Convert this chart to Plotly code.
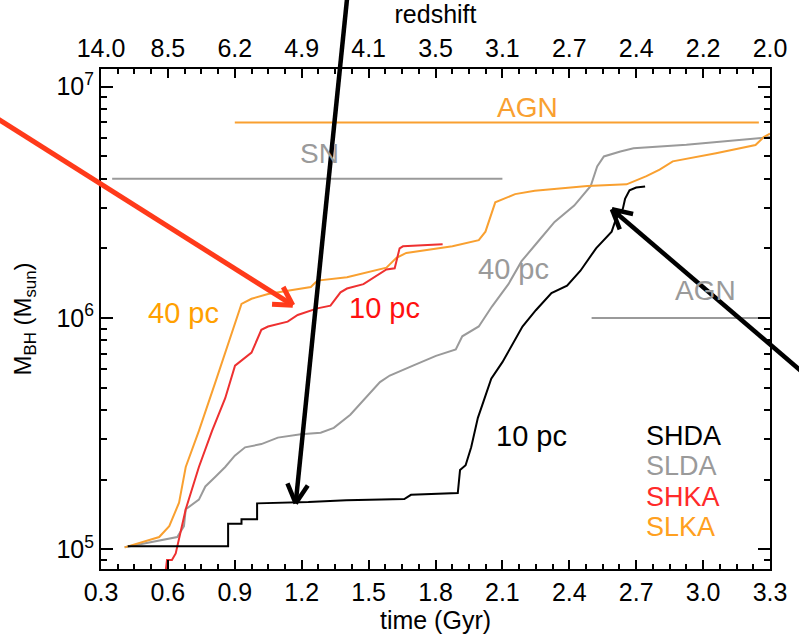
import math
import numpy as np
import plotly.graph_objects as go

FONT = "Liberation Sans, Arial, Helvetica, sans-serif"

# time axis (Gyr) and matching redshift labels for the top axis
time_ticks = [0.3, 0.6, 0.9, 1.2, 1.5, 1.8, 2.1, 2.4, 2.7, 3.0, 3.3]
redshift_labels = ["14.0", "8.5", "6.2", "4.9", "4.1", "3.5", "3.1", "2.7", "2.4", "2.2", "2.0"]

# black hole mass growth, time in Gyr, mass in Msun
t_shda = [0.42, 0.87, 0.87, 0.93, 0.93, 1.00, 1.00, 1.23, 1.40, 1.66, 1.69, 1.90, 1.91, 1.935,
          1.96, 1.99, 2.01, 2.05, 2.10, 2.14, 2.19, 2.25, 2.32, 2.39, 2.45, 2.52, 2.59, 2.61,
          2.64, 2.65, 2.67, 2.70, 2.74]
m_shda = [1.03e5, 1.03e5, 1.29e5, 1.29e5, 1.35e5, 1.35e5, 1.58e5, 1.60e5, 1.63e5, 1.65e5,
          1.72e5, 1.75e5, 2.20e5, 2.31e5, 2.76e5, 3.70e5, 4.21e5, 5.46e5, 6.44e5, 7.55e5,
          9.18e5, 1.08e6, 1.28e6, 1.38e6, 1.60e6, 2.00e6, 2.36e6, 2.69e6, 2.96e6, 3.27e6,
          3.56e6, 3.66e6, 3.70e6]

t_slda = [0.406, 0.569, 0.642, 0.672, 0.68, 0.739, 0.768, 0.813, 0.857, 0.90, 0.946, 1.019,
          1.093, 1.196, 1.285, 1.344, 1.403, 1.418, 1.551, 1.595, 1.699, 1.802, 1.891, 1.92,
          1.994, 2.053, 2.127, 2.186, 2.26, 2.334, 2.422, 2.496, 2.525, 2.555, 2.629, 2.688,
          2.925, 3.234, 3.30]
m_slda = [1.02e5, 1.10e5, 1.13e5, 1.26e5, 1.49e5, 1.64e5, 1.87e5, 2.06e5, 2.27e5, 2.54e5,
          2.76e5, 2.85e5, 3.04e5, 3.14e5, 3.19e5, 3.35e5, 3.70e5, 3.82e5, 5.28e5, 5.64e5,
          6.22e5, 6.86e5, 7.31e5, 8.33e5, 9.19e5, 1.12e6, 1.40e6, 1.76e6, 2.14e6, 2.60e6,
          3.06e6, 3.72e6, 4.52e6, 4.99e6, 5.24e6, 5.41e6, 5.60e6, 5.96e6, 6.05e6]

t_shka = [0.591, 0.596, 0.618, 0.635, 0.68, 0.739, 0.798, 0.857, 0.901, 0.93, 0.975, 1.019,
          1.049, 1.137, 1.182, 1.27, 1.329, 1.374, 1.403, 1.477, 1.58, 1.617, 1.639, 1.654, 1.832]
m_shka = [8.2e4, 9.0e4, 9.0e4, 9.6e4, 1.49e5, 2.27e5, 3.25e5, 4.50e5, 6.22e5, 6.53e5, 7.08e5,
          8.89e5, 9.18e5, 9.64e5, 1.03e6, 1.10e6, 1.13e6, 1.29e6, 1.34e6, 1.40e6, 1.62e6,
          1.64e6, 2.00e6, 2.04e6, 2.08e6]

t_slka = [0.406, 0.561, 0.606, 0.65, 0.68, 0.739, 0.813, 0.886, 0.93, 0.975, 1.049, 1.137,
          1.241, 1.27, 1.403, 1.58, 1.625, 1.669, 1.876, 1.994, 2.024, 2.068, 2.157, 2.245,
          2.481, 2.657, 2.746, 2.805, 2.864, 3.058, 3.235, 3.272, 3.30]
m_slka = [1.02e5, 1.13e5, 1.26e5, 1.59e5, 2.27e5, 3.25e5, 5.28e5, 8.60e5, 1.15e6, 1.21e6,
          1.27e6, 1.31e6, 1.36e6, 1.45e6, 1.50e6, 1.65e6, 1.82e6, 1.91e6, 2.04e6, 2.17e6,
          2.36e6, 3.16e6, 3.43e6, 3.55e6, 3.72e6, 3.78e6, 4.10e6, 4.38e6, 4.75e6, 5.15e6,
          5.59e6, 6.05e6, 6.26e6]

# feedback-onset levels: (time span, mass level)
agn_slka_t, agn_slka_m = [0.90, 3.25], 7.0e6
sn_slda_t, sn_slda_m = [0.35, 2.10], 4.0e6
agn_slda_t, agn_slda_m = [2.50, 3.28], 1.0e6

BLACK = "#000000"
GRAY = "#9a9a9a"
RED = "#ee3030"
ORANGE = "#f9a030"

W, H = 799, 642
ML, MR, MT, MB = 101, 21, 64, 68
PW, PH = W - ML - MR, H - MT - MB

XR = [0.3, 3.3]
ylo, yhi = 4.915, 7.076

# minor tick positions
minor_x = [round(0.3 + 0.075 * k, 4) for k in range(41) if k % 4]
minor_y = [k * 10 ** e for e in (4, 5, 6) for k in range(2, 10)]
minor_y = [v for v in minor_y if 10 ** ylo < v < 10 ** yhi]

fig = go.Figure()

for t, m, c in [(t_slda, m_slda, GRAY), (t_slka, m_slka, ORANGE),
                (t_shka, m_shka, RED), (t_shda, m_shda, BLACK)]:
    fig.add_trace(go.Scatter(x=t, y=m, mode="lines", line=dict(color=c, width=2),
                             showlegend=False, hoverinfo="skip"))

for span, level, c in [(agn_slka_t, agn_slka_m, ORANGE), (sn_slda_t, sn_slda_m, GRAY),
                       (agn_slda_t, agn_slda_m, GRAY)]:
    fig.add_trace(go.Scatter(x=span, y=[level, level], mode="lines",
                             line=dict(color=c, width=2), showlegend=False, hoverinfo="skip"))

# invisible traces so the secondary (redshift / minor-tick) axes get drawn
for xa, ya in [("x2", "y"), ("x3", "y2"), ("x4", "y2")]:
    fig.add_trace(go.Scatter(x=XR, y=[1e5, 1e5], xaxis=xa, yaxis=ya, mode="lines",
                             line=dict(width=0), opacity=0, showlegend=False,
                             hoverinfo="skip"))

tickfont = dict(family=FONT, size=25, color="black")
common = dict(tickwidth=2, tickcolor="black", showgrid=False, zeroline=False,
              tickfont=tickfont)
minor_x_axis = dict(range=XR, overlaying="x", anchor="y", tickmode="array",
                    tickvals=minor_x, ticks="inside", ticklen=5, showticklabels=False,
                    showline=False, **common)

fig.update_layout(
    width=W, height=H,
    margin=dict(l=ML, r=MR, t=MT, b=MB),
    paper_bgcolor="white", plot_bgcolor="white",
    font=dict(family=FONT, color="black"),
    xaxis=dict(range=XR, tickmode="array", tickvals=time_ticks,
               ticktext=[f"{v:.1f}" for v in time_ticks], ticks="inside", ticklen=9,
               showline=True, linewidth=2, linecolor="black", **common,
               title=dict(text="time (Gyr)", font=dict(family=FONT, size=25), standoff=6)),
    xaxis2=dict(range=XR, overlaying="x", anchor="y", side="top", tickmode="array",
                tickvals=time_ticks, ticktext=redshift_labels, ticks="inside", ticklen=9,
                showline=True, linewidth=2, linecolor="black", **common,
                title=dict(text="redshift", font=dict(family=FONT, size=25), standoff=4)),
    xaxis3=dict(side="bottom", **minor_x_axis),
    xaxis4=dict(side="top", **minor_x_axis),
    yaxis=dict(type="log", range=[ylo, yhi], tickmode="array", tickvals=[1e5, 1e6, 1e7],
               ticktext=["10<sup>5</sup>", "10<sup>6</sup>", "10<sup>7</sup>"],
               ticks="inside", ticklen=12, showline=True, linewidth=2, linecolor="black",
               mirror="ticks", **common,
               title=dict(text="M<sub>BH</sub> (M<sub>sun</sub>)",
                          font=dict(family=FONT, size=24), standoff=18)),
    yaxis2=dict(type="log", range=[ylo, yhi], overlaying="y", anchor="x", side="left",
                tickmode="array", tickvals=minor_y, ticks="inside", ticklen=6,
                showticklabels=False, showline=False, mirror="ticks", **common),
)


def label(text, t, m, color, size=29, anchor="center"):
    fig.add_annotation(x=t, y=np.log10(m), text=text, showarrow=False, xanchor=anchor,
                       yanchor="middle", font=dict(family=FONT, size=size, color=color))


label("AGN", 2.214, 8.15e6, ORANGE, 28)
label("SN", 1.279, 5.15e6, GRAY, 28)
label("AGN", 3.012, 1.315e6, GRAY, 28)
label("40 pc", 0.668, 1.05e6, "#ffa000")
label("10 pc", 1.572, 1.10e6, "#ff1010")
label("40 pc", 2.148, 1.63e6, GRAY)
label("10 pc", 2.232, 3.10e5, BLACK)

for name, m, c in [("SHDA", 3.10e5, BLACK), ("SLDA", 2.29e5, GRAY),
                   ("SHKA", 1.69e5, "#ff2a2a"), ("SLKA", 1.25e5, "#ffa020")]:
    label(name, 2.737, m, c, 27, "left")


def arrow(t, m, dx, dy, color, width, arm=22, spread=28):
    """Pointer with an open V head: tip at (t, m), tail offset (dx, dy) in pixels."""
    xp = (t - XR[0]) / (XR[1] - XR[0])
    yp = (np.log10(m) - ylo) / (yhi - ylo)

    def to_paper(px, py):
        return xp + px / PW, yp - py / PH

    line = dict(color=color, width=width)
    tx, ty = to_paper(dx, dy)
    fig.add_shape(type="line", xref="paper", yref="paper", x0=xp, y0=yp, x1=tx, y1=ty,
                  line=line)
    ang = math.atan2(dy, dx)
    for s in (-1, 1):
        a = ang + s * math.radians(spread)
        hx, hy = to_paper(arm * math.cos(a), arm * math.sin(a))
        fig.add_shape(type="line", xref="paper", yref="paper", x0=xp, y0=yp, x1=hx, y1=hy,
                      line=line)


arrow(1.16, 1.135e6, -300, -191, "#ff3a1a", 5, arm=21, spread=30)
arrow(1.173, 1.58e5, 52, -515, BLACK, 4.5)
arrow(2.591, 2.95e6, 195, 168, BLACK, 4.5)

fig.write_html("out.html")
